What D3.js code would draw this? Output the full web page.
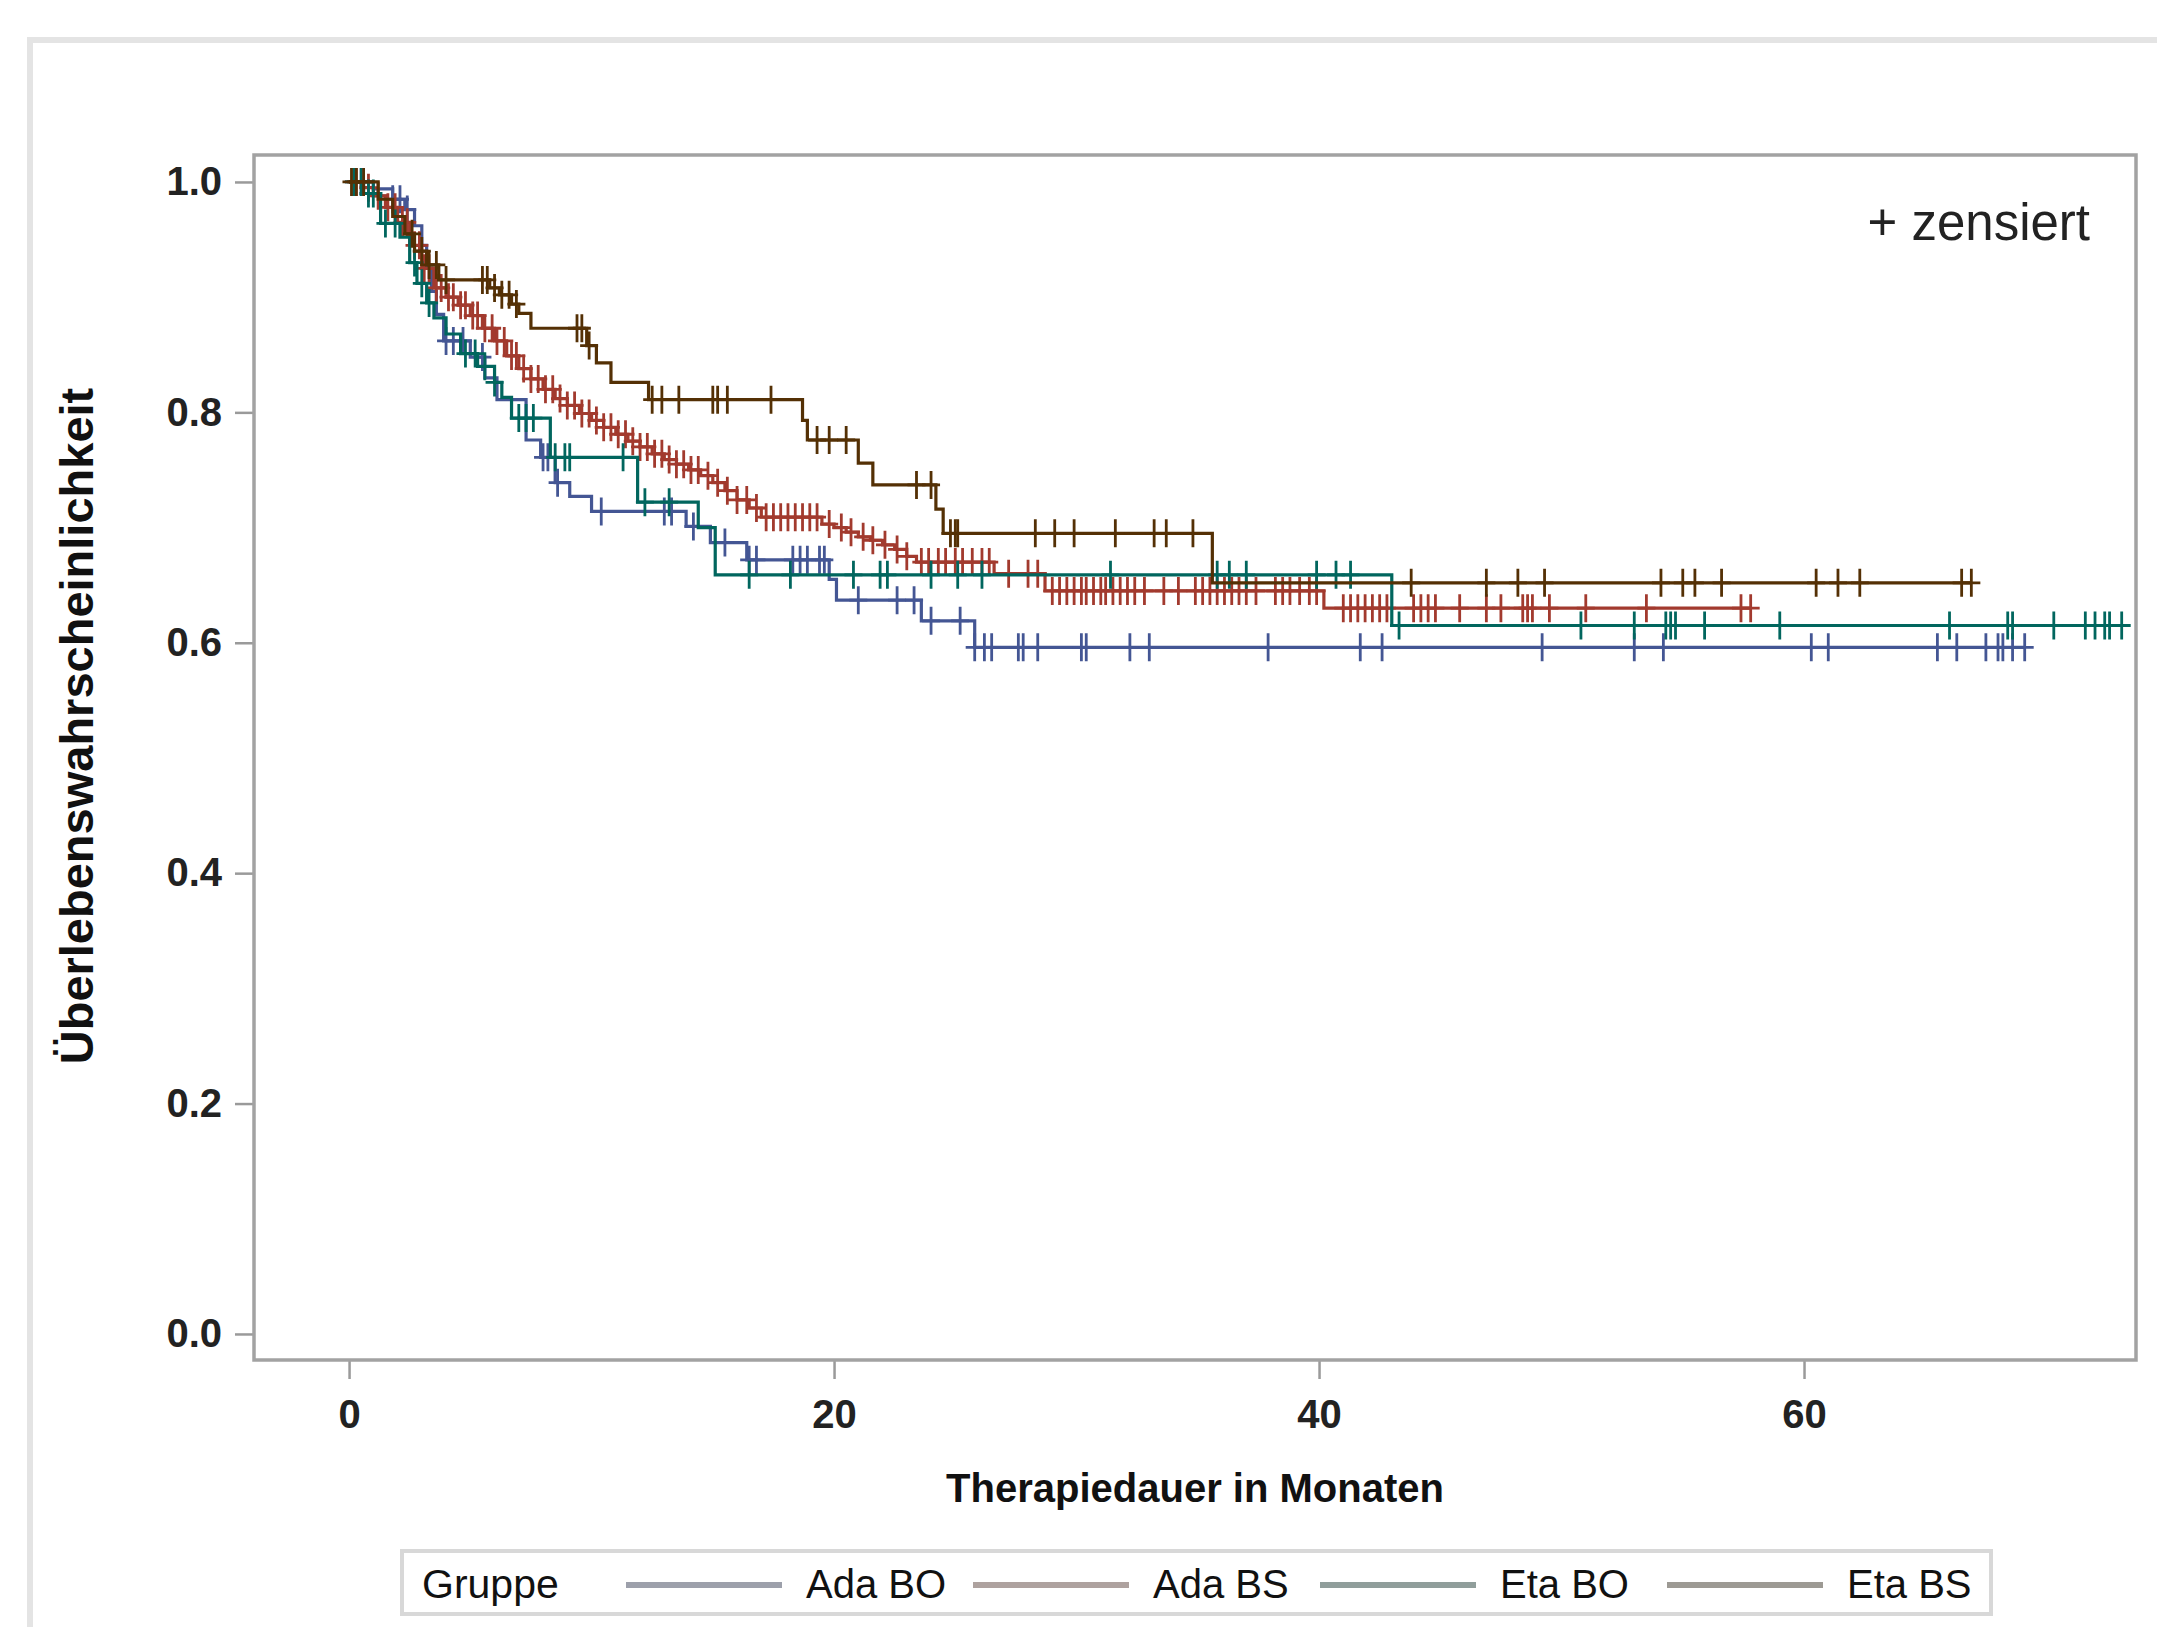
<!DOCTYPE html>
<html>
<head>
<meta charset="utf-8">
<script src="https://cdn.jsdelivr.net/npm/d3@7"></script>
<style>
  body { margin: 0; background: #fff; }
  svg { display: block; font-family: "Liberation Sans", Arial, sans-serif; }
</style>
</head>
<body>
<div id="chart"></div>
<script>
// Kaplan-Meier curves: [month, survival] where a step starts
const groups = ["Ada BO", "Ada BS", "Eta BO", "Eta BS"];
const colors = ["#445694", "#a23a2e", "#01665e", "#543005"];
const legendColors = ["#9da0ab", "#aea29f", "#909e9b", "#9d9a94"];

const adaBoSteps = [[0,1],[1.0,0.994],[1.8,0.985],[2.3,0.976],[2.7,0.962],[3.0,0.945],[3.2,0.925],
  [3.4,0.905],[3.6,0.885],[3.9,0.862],[5.0,0.848],[5.6,0.83],[6.1,0.811],[7.3,0.776],[7.9,0.761],
  [8.5,0.739],[9.1,0.727],[10.0,0.714],[13.9,0.701],[14.9,0.687],[16.4,0.672],[19.8,0.655],
  [20.1,0.637],[23.6,0.619],[25.8,0.596]];
const adaBsSteps = [[0,1],[0.5,0.995],[1.0,0.988],[1.5,0.978],[2.0,0.965],[2.5,0.945],[3.0,0.925],
  [3.5,0.908],[4.0,0.9],[4.5,0.893],[5.0,0.884],[5.5,0.873],[6.0,0.862],[6.5,0.849],[7.0,0.838],
  [7.5,0.829],[8.0,0.82],[8.5,0.812],[9.0,0.806],[9.5,0.799],[10.0,0.793],[10.5,0.787],[11.0,0.781],
  [11.5,0.775],[12.0,0.77],[12.5,0.764],[13.0,0.759],[13.5,0.755],[14.0,0.75],[14.5,0.745],
  [15.0,0.739],[15.5,0.732],[16.0,0.724],[16.5,0.717],[17.0,0.709],[19.5,0.703],[20.0,0.7],
  [20.5,0.696],[21.0,0.692],[21.5,0.689],[22.0,0.685],[22.5,0.681],[23.0,0.675],[23.4,0.67],
  [26.6,0.66],[28.7,0.645],[40.2,0.63]];
const etaBoSteps = [[0,1],[0.6,0.99],[1.3,0.964],[2.1,0.952],[2.5,0.93],[2.8,0.912],[3.2,0.895],
  [3.5,0.882],[4.0,0.868],[4.6,0.851],[5.3,0.84],[6.0,0.826],[6.3,0.813],[6.7,0.795],[8.3,0.761],
  [11.9,0.722],[14.4,0.7],[15.1,0.659],[43.0,0.615]];
const etaBsSteps = [[0,1],[1.2,0.985],[1.8,0.97],[2.3,0.955],[2.7,0.94],[3.2,0.928],[3.7,0.915],
  [5.8,0.908],[6.2,0.902],[6.7,0.894],[7.0,0.886],[7.5,0.873],[9.8,0.858],[10.2,0.843],[10.8,0.826],
  [12.35,0.811],[18.7,0.793],[18.9,0.776],[21.0,0.756],[21.6,0.737],[24.2,0.716],[24.5,0.695],
  [35.6,0.652]];

// last follow-up month of each group
const lastMonth = [69.1, 57.8, 73.1, 66.9];

// censored observations (months)
const adaBoCens = [0.2, 0.5, 1.8, 2.1, 2.4, 4.0, 4.3, 4.7, 5.5, 8.0, 8.2, 8.6, 10.4, 13.0, 13.3, 14.2,
  15.5, 16.5, 16.8, 18.3, 18.6, 18.9, 19.4, 19.6, 21.0, 22.6, 23.3, 24.0, 25.2, 25.8, 26.2, 26.5,
  27.6, 27.8, 28.4, 30.2, 30.4, 32.2, 33.0, 37.9, 41.7, 42.6, 49.2, 53.0, 54.2, 60.3, 61.0, 65.5,
  66.3, 67.5, 68.0, 68.2, 68.6, 69.1];
const adaBsCens = [0.3, 0.8, 1.2, 1.6, 1.9, 2.2, 2.4, 2.7, 2.9, 3.1, 3.3, 3.6, 3.8, 4.1, 4.3, 4.6,
  4.8, 5.1, 5.3, 5.6, 5.9, 6.1, 6.4, 6.7, 6.9, 7.2, 7.5, 7.8, 8.1, 8.4, 8.7, 9.0, 9.3, 9.6, 9.9,
  10.2, 10.5, 10.8, 11.1, 11.4, 11.7, 12.0, 12.3, 12.6, 12.9, 13.2, 13.5, 13.8, 14.1, 14.4, 14.8,
  15.2, 15.6, 16.0, 16.4, 16.8, 17.2, 17.5, 17.8, 18.1, 18.4, 18.7, 19.0, 19.3, 19.8, 20.3, 20.7,
  21.2, 21.6, 22.1, 22.6, 23.0, 23.6, 23.9, 24.3, 24.6, 25.0, 25.3, 25.7, 26.1, 26.4, 27.2, 28.0,
  28.4, 29.0, 29.3, 29.6, 29.9, 30.2, 30.4, 30.7, 31.0, 31.2, 31.5, 31.8, 32.1, 32.4, 32.8, 33.6,
  34.2, 34.9, 35.2, 35.5, 35.8, 36.1, 36.4, 36.7, 37.0, 37.4, 38.2, 38.5, 38.8, 39.2, 39.6, 39.9,
  41.0, 41.3, 41.6, 41.9, 42.2, 42.5, 42.8, 43.9, 44.2, 44.5, 44.8, 45.8, 46.9, 47.5, 48.4, 48.6,
  48.8, 49.5, 51.0, 53.5, 57.4, 57.8];
const etaBoCens = [0.2, 0.5, 0.8, 1.0, 1.5, 1.9, 2.7, 3.0, 3.3, 4.8, 5.2, 5.6, 6.0, 7.0, 7.3, 7.6,
  8.5, 8.9, 9.1, 11.3, 12.2, 13.2, 16.5, 18.2, 20.8, 21.9, 22.2, 24.0, 25.1, 26.1, 31.4, 35.8, 36.3,
  37.0, 39.9, 40.7, 41.3, 43.3, 50.8, 53.0, 54.3, 54.5, 54.7, 55.9, 59.0, 66.0, 68.4, 68.6, 70.3,
  71.6, 72.0, 72.4, 72.6, 73.1];
const etaBsCens = [0.1, 0.3, 0.6, 2.6, 3.0, 3.3, 3.6, 4.0, 5.5, 5.7, 6.0, 6.3, 6.6, 6.9, 9.4, 9.6,
  9.9, 12.5, 12.9, 13.6, 15.0, 15.2, 15.6, 17.4, 19.3, 19.8, 20.5, 23.4, 24.0, 24.8, 25.0, 25.1,
  28.3, 29.1, 29.9, 31.6, 33.2, 33.7, 34.8, 43.8, 46.9, 48.2, 49.3, 54.1, 55.0, 55.5, 56.6, 60.5,
  61.4, 62.3, 66.5, 66.9];

const xTicks = [0, 20, 40, 60];
const yTicks = [0, 0.2, 0.4, 0.6, 0.8, 1.0];

const steps = [adaBoSteps, adaBsSteps, etaBoSteps, etaBsSteps];
const cens = [adaBoCens, adaBsCens, etaBoCens, etaBsCens];

const W = 2157, H = 1627;
const plot = { l: 254, r: 2136, t: 155, b: 1360 };

const svg = d3.select("#chart").append("svg")
  .attr("width", W).attr("height", H);

// outer panel frame
svg.append("rect")
  .attr("x", 30).attr("y", 40)
  .attr("width", 2300).attr("height", 1800)
  .attr("fill", "#fff")
  .attr("stroke", "#e4e4e4")
  .attr("stroke-width", 6);

const x = d3.scaleLinear().domain([-3.92, 73.69]).range([plot.l, plot.r]);
const y = d3.scaleLinear().domain([-0.0226, 1.0234]).range([plot.b, plot.t]);

svg.append("defs").append("clipPath").attr("id", "plotClip")
  .append("rect")
  .attr("x", plot.l).attr("y", plot.t)
  .attr("width", plot.r - plot.l).attr("height", plot.b - plot.t);

// axes
const yAxis = svg.append("g")
  .attr("transform", `translate(${plot.l},0)`)
  .call(d3.axisLeft(y).tickValues(yTicks).tickSize(19).tickPadding(13).tickFormat(d3.format(".1f")));
const xAxis = svg.append("g")
  .attr("transform", `translate(0,${plot.b})`)
  .call(d3.axisBottom(x).tickValues(xTicks).tickSize(19).tickPadding(21).tickFormat(d3.format("d")));

[xAxis, yAxis].forEach(g => {
  g.select(".domain").remove();
  g.selectAll(".tick line").attr("stroke", "#9a9a9a").attr("stroke-width", 2.5);
  g.selectAll(".tick text")
    .attr("fill", "#222")
    .attr("font-size", 40)
    .attr("font-weight", 700)
    .attr("font-family", "'Liberation Sans', Arial, sans-serif");
});

// plot frame
svg.append("rect")
  .attr("x", plot.l).attr("y", plot.t)
  .attr("width", plot.r - plot.l).attr("height", plot.b - plot.t)
  .attr("fill", "none")
  .attr("stroke", "#a2a2a2")
  .attr("stroke-width", 3.5);

// axis titles
svg.append("text")
  .attr("x", (plot.l + plot.r) / 2).attr("y", 1502)
  .attr("text-anchor", "middle")
  .attr("font-size", 40).attr("font-weight", 700).attr("fill", "#111")
  .text("Therapiedauer in Monaten");

svg.append("text")
  .attr("transform", "translate(93,726) rotate(-90)")
  .attr("text-anchor", "middle")
  .attr("font-size", 47).attr("font-weight", 700).attr("fill", "#111")
  .text("Überlebenswahrscheinlichkeit");

// curves
const gCurves = svg.append("g").attr("clip-path", "url(#plotClip)");
const line = d3.line()
  .x(d => x(d[0]))
  .y(d => y(d[1]))
  .curve(d3.curveStepAfter);
const bis = d3.bisector(d => d[0]).right;

groups.forEach((name, i) => {
  const pts = steps[i].concat([[lastMonth[i], steps[i][steps[i].length - 1][1]]]);
  gCurves.append("path")
    .attr("d", line(pts))
    .attr("fill", "none")
    .attr("stroke", colors[i])
    .attr("stroke-width", 3.2);

  const marks = cens[i].map(t => {
    const k = Math.max(0, bis(steps[i], t) - 1);
    return [t, steps[i][k][1]];
  });
  gCurves.append("g").selectAll("path")
    .data(marks)
    .join("path")
    .attr("d", d => {
      const px = x(d[0]), py = y(d[1]);
      return `M${px - 9},${py}h18M${px},${py - 14}v28`;
    })
    .attr("stroke", colors[i])
    .attr("stroke-width", 2.8)
    .attr("fill", "none");
});

// censored note
svg.append("text")
  .attr("x", 2090).attr("y", 240)
  .attr("text-anchor", "end")
  .attr("font-size", 51).attr("fill", "#222")
  .text("+ zensiert");

// legend
const legend = svg.append("g");
legend.append("rect")
  .attr("x", 402).attr("y", 1551)
  .attr("width", 1589).attr("height", 63)
  .attr("fill", "#fff")
  .attr("stroke", "#d8d8d8")
  .attr("stroke-width", 4);
legend.append("text")
  .attr("x", 422).attr("y", 1598)
  .attr("font-size", 41).attr("fill", "#111")
  .text("Gruppe");

const legX = d3.scalePoint().domain(groups).range([626, 1667]);
const legItems = legend.selectAll("g.item")
  .data(groups)
  .join("g")
  .attr("class", "item")
  .attr("transform", d => `translate(${legX(d)},0)`);
legItems.append("line")
  .attr("x1", 0).attr("x2", 156)
  .attr("y1", 1585).attr("y2", 1585)
  .attr("stroke", (d, i) => legendColors[i])
  .attr("stroke-width", 6);
legItems.append("text")
  .attr("x", 180).attr("y", 1598)
  .attr("font-size", 40).attr("fill", "#111")
  .text(d => d);
</script>
</body>
</html>
